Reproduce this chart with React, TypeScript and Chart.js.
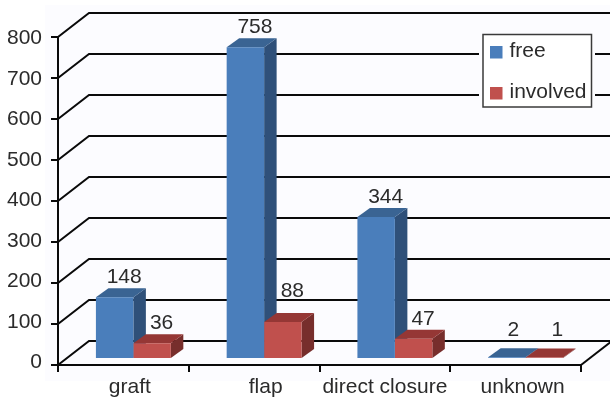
import React, { useEffect, useRef } from "react";
import { Chart, registerables } from "chart.js";

Chart.register(...registerables);

const categories = ["graft", "flap", "direct closure", "unknown"];
const freeValues = [148, 758, 344, 2];
const involvedValues = [36, 88, 47, 1];
const yTicks = [0, 100, 200, 300, 400, 500, 600, 700, 800];

const FONT = "'Liberation Sans', Arial, sans-serif";
const TEXT = "#2b2b2b";
const DEPTH_X = 31;
const DEPTH_Y = 24;
const BAR_DX = 12.5;
const BAR_DY = 9;
const BAR_SHIFT = 10;

const palette = [
  { front: "#4a7ebb", top: "#3a6493", side: "#2f5079" },
  { front: "#c0504d", top: "#953735", side: "#772e2c" },
];
const xLabelNudge = [6.5, 11.5, 0, 7];
const valueNudge: Record<string, [number, number]> = {
  "1-1": [0, -11],
  "0-3": [-3, -7],
  "1-3": [3.5, -7],
};

const scene = {
  id: "scene3d",
  afterLayout(chart: any) {
    chart.scales.x.getLabelItems(chart.chartArea).forEach((it: any, i: number) => {
      it.options.translation[0] += xLabelNudge[i] || 0;
    });
    chart.scales.y.getLabelItems(chart.chartArea).forEach((it: any) => {
      const v = Number(it.label);
      it.options.translation[1] += 1.5 - (4 * (800 - v)) / 800;
    });
  },
  beforeDraw(chart: any) {
    const c = chart.ctx;
    c.save();
    c.fillStyle = "#fcfcff";
    c.fillRect(45, 5, 565, 376);
    c.restore();
  },
  beforeDatasetsDraw(chart: any) {
    const c = chart.ctx;
    const { left, right } = chart.chartArea;
    const y = chart.scales.y;
    c.save();
    c.strokeStyle = "#0a0a0a";
    c.lineWidth = 2;
    yTicks.forEach((v) => {
      const py = y.getPixelForValue(v);
      c.beginPath();
      c.moveTo(left, py);
      c.lineTo(left + DEPTH_X, py - DEPTH_Y);
      c.lineTo(chart.width, py - DEPTH_Y);
      c.stroke();
    });
    const base = y.getPixelForValue(0);
    c.beginPath();
    c.moveTo(right, base);
    c.lineTo(right + DEPTH_X, base - DEPTH_Y);
    c.stroke();
    c.restore();

    c.save();
    c.translate(BAR_SHIFT, 0);
    [0, 1].forEach((ds) => {
      const col = palette[ds];
      chart.getDatasetMeta(ds).data.forEach((b: any) => {
        const x0 = b.x - b.width / 2;
        const x1 = b.x + b.width / 2;
        c.fillStyle = col.side;
        c.beginPath();
        c.moveTo(x1, b.y);
        c.lineTo(x1 + BAR_DX, b.y - BAR_DY);
        c.lineTo(x1 + BAR_DX, b.base - BAR_DY);
        c.lineTo(x1, b.base);
        c.closePath();
        c.fill();
        c.fillStyle = col.top;
        c.beginPath();
        c.moveTo(x0, b.y);
        c.lineTo(x1, b.y);
        c.lineTo(x1 + BAR_DX, b.y - BAR_DY);
        c.lineTo(x0 + BAR_DX, b.y - BAR_DY);
        c.closePath();
        c.fill();
      });
    });
  },
  afterDatasetsDraw(chart: any) {
    const c = chart.ctx;
    c.restore();

    c.save();
    c.font = `21px ${FONT}`;
    c.fillStyle = TEXT;
    c.textAlign = "center";
    c.textBaseline = "middle";
    [0, 1].forEach((ds) => {
      chart.getDatasetMeta(ds).data.forEach((b: any, i: number) => {
        const n = valueNudge[`${ds}-${i}`] || [0, 0];
        c.fillText(
          String(chart.data.datasets[ds].data[i]),
          b.x + BAR_SHIFT + 9.5 + n[0],
          b.y - 20 + n[1],
        );
      });
    });

    // legend
    c.fillStyle = "#fcfcff";
    c.fillRect(479, 31, 116, 79);
    c.fillStyle = "#ffffff";
    c.strokeStyle = "#3a3a3a";
    c.lineWidth = 1.5;
    c.fillRect(483, 34.5, 108.5, 72.5);
    c.strokeRect(483, 34.5, 108.5, 72.5);
    c.textAlign = "left";
    chart.data.datasets.forEach((d: any, i: number) => {
      const yMid = 50 + i * 41;
      c.fillStyle = palette[i].front;
      c.fillRect(490, yMid - 4, 12.5, 12.5);
      c.fillStyle = TEXT;
      c.fillText(d.label, 509.5, yMid + 1);
    });
    c.restore();
  },
};

export default function App() {
  const ref = useRef<HTMLCanvasElement>(null);
  useEffect(() => {
    document.body.style.margin = "0";
    const chart = new Chart(ref.current!, {
      type: "bar",
      data: {
        labels: categories,
        datasets: [
          { label: "free", data: freeValues, backgroundColor: palette[0].front, yAxisID: "yBars", categoryPercentage: 0.573, barPercentage: 1 },
          { label: "involved", data: involvedValues, backgroundColor: palette[1].front, yAxisID: "yBars", categoryPercentage: 0.573, barPercentage: 1 },
        ],
      },
      options: {
        responsive: false,
        animation: false,
        layout: { padding: { top: 37, right: 29, left: 0, bottom: 0 } },
        plugins: { legend: { display: false }, tooltip: { enabled: false }, title: { display: false } },
        scales: {
          x: {
            grid: { drawOnChartArea: false, drawTicks: true, tickLength: 7, color: "#0a0a0a", lineWidth: 2, offset: true },
            border: { color: "#0a0a0a", width: 2 },
            ticks: { color: TEXT, font: { family: FONT, size: 21 }, maxRotation: 0, autoSkip: false, padding: 3 },
            afterFit: (s: any) => { s.height = 36; },
          },
          y: {
            min: 0,
            max: 800,
            grid: { drawOnChartArea: false, tickLength: 7, color: "#0a0a0a", lineWidth: 2 },
            border: { color: "#0a0a0a", width: 2 },
            ticks: { stepSize: 100, color: TEXT, font: { family: FONT, size: 21 }, padding: 9 },
            afterFit: (s: any) => { s.width = 58; },
          },
          yBars: {
            display: false,
            min: -17.07,
            max: 782.93,
          },
        },
      },
      plugins: [scene],
    } as any);
    return () => chart.destroy();
  }, []);
  return <canvas ref={ref} width={610} height={401} style={{ display: "block" }} />;
}
